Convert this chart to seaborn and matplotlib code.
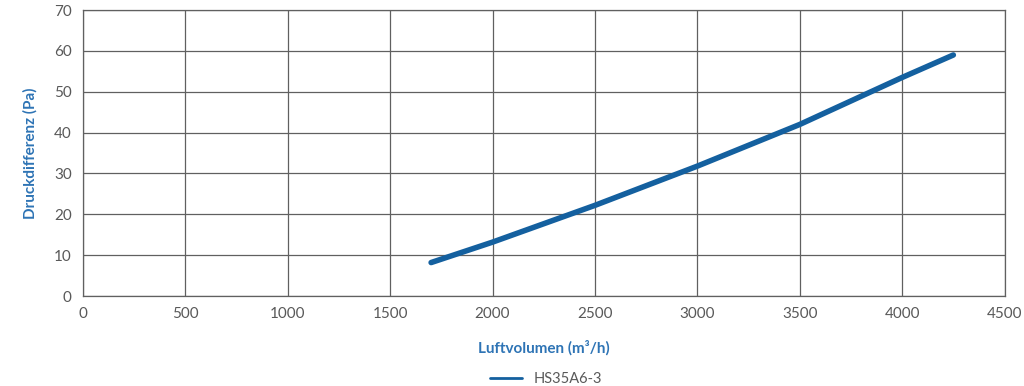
import matplotlib
matplotlib.use('Agg')
import matplotlib.pyplot as plt
import seaborn as sns
import pandas as pd

# values
luftvolumen = [1700, 2000, 2500, 3000, 3500, 4000, 4250]
druckdifferenz = [8.2, 13.2, 22.2, 31.8, 42.0, 53.5, 59.0]
x_ticks = list(range(0, 4501, 500))
y_ticks = list(range(0, 71, 10))

data = pd.DataFrame({'Luftvolumen': luftvolumen, 'Druckdifferenz': druckdifferenz,
                     'Typ': 'HS35A6-3'})

sns.set_style('white')
plt.rcParams['font.family'] = ['Lato', 'DejaVu Sans']

fig = plt.figure(figsize=(10.24, 3.86), dpi=100)
ax = fig.add_axes([0.081, 0.233, 0.900, 0.741])

sns.lineplot(x='Luftvolumen', y='Druckdifferenz', hue='Typ', data=data, ax=ax,
             palette=['#14609f'], linewidth=4, legend=False,
             solid_capstyle='round')

ax.set_xlim(0, 4500)
ax.set_ylim(0, 70)
ax.set_xticks(x_ticks)
ax.set_yticks(y_ticks)
ax.grid(True, color='#606060', linewidth=0.9)
for s in ax.spines.values():
    s.set_color('#606060')
    s.set_linewidth(0.9)
ax.tick_params(length=0, labelsize=11, labelcolor='#595959', pad=8)

ax.set_xlabel('Luftvolumen (m³/h)', fontsize=11, fontweight='bold', color='#2e74b5', labelpad=14)
ax.set_ylabel('Druckdifferenz (Pa)', fontsize=11, fontweight='bold', color='#2e74b5', labelpad=12)

handle = plt.Line2D([], [], color='#14609f', linewidth=2)
fig.legend([handle], ['HS35A6-3'], loc='lower center', bbox_to_anchor=(0.533, -0.035),
           frameon=False, fontsize=10.5, handlelength=2.2,
           labelcolor='#595959')

fig.savefig('out.png', dpi=100)
